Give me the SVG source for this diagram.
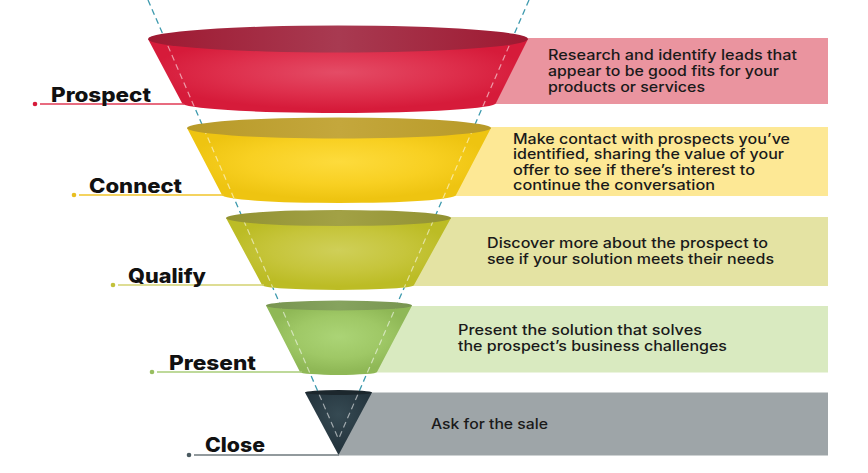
<svg xmlns="http://www.w3.org/2000/svg" width="868" height="473" viewBox="0 0 868 473">
<defs>
<style>
.lbl{font-family:Inter,"Liberation Sans",Arial,sans-serif;font-weight:800;font-size:20px;fill:#111;}
.desc{font-family:Inter,"Liberation Sans",Arial,sans-serif;font-weight:500;font-size:14px;fill:#1a1a1a;}
.guide{fill:none;stroke:#3e9aae;stroke-width:1.3;stroke-dasharray:6 4;}
.guidew{fill:none;stroke:#ffffff;stroke-opacity:0.55;stroke-width:1.2;stroke-dasharray:6 4;}
.lead{stroke-width:1.6;fill:none;}
</style>
<radialGradient id="gRed" cx="0.5" cy="0.45" r="0.5"><stop offset="0" stop-color="#e44c66"/><stop offset="0.6" stop-color="#de2f4c"/><stop offset="1" stop-color="#d61b3a"/></radialGradient>
<linearGradient id="tRed" x1="0" x2="1" y1="0" y2="0"><stop offset="0" stop-color="#9e1931"/><stop offset="0.5" stop-color="#a83a51"/><stop offset="1" stop-color="#9e1931"/></linearGradient>
<radialGradient id="gYel" cx="0.5" cy="0.45" r="0.5"><stop offset="0" stop-color="#fddb3c"/><stop offset="0.6" stop-color="#f8d022"/><stop offset="1" stop-color="#eec411"/></radialGradient>
<linearGradient id="tYel" x1="0" x2="1" y1="0" y2="0"><stop offset="0" stop-color="#b89a28"/><stop offset="0.5" stop-color="#c4a73c"/><stop offset="1" stop-color="#b89a28"/></linearGradient>
<radialGradient id="gQua" cx="0.5" cy="0.45" r="0.5"><stop offset="0" stop-color="#cfcf58"/><stop offset="0.6" stop-color="#c6c53b"/><stop offset="1" stop-color="#bcbc25"/></radialGradient>
<linearGradient id="tQua" x1="0" x2="1" y1="0" y2="0"><stop offset="0" stop-color="#929232"/><stop offset="0.5" stop-color="#a2a145"/><stop offset="1" stop-color="#929232"/></linearGradient>
<radialGradient id="gPre" cx="0.5" cy="0.45" r="0.5"><stop offset="0" stop-color="#abd476"/><stop offset="0.6" stop-color="#9fc866"/><stop offset="1" stop-color="#8fb856"/></radialGradient>
<linearGradient id="tPre" x1="0" x2="1" y1="0" y2="0"><stop offset="0" stop-color="#789550"/><stop offset="0.5" stop-color="#86a35e"/><stop offset="1" stop-color="#789550"/></linearGradient>
<radialGradient id="gClo" cx="0.5" cy="0.35" r="0.55"><stop offset="0" stop-color="#364a53"/><stop offset="1" stop-color="#24343d"/></radialGradient>
<mask id="bodyMask" maskUnits="userSpaceOnUse" x="0" y="0" width="868" height="473">
<path d="M148,39 L182,103 A157,10 0 0 0 496,103 L528,39 Z" fill="#fff"/>
<ellipse cx="338" cy="39" rx="190" ry="13.5" fill="#000"/>
<path d="M187,128 L222,195 A117,8 0 0 0 456,195 L491,128 Z" fill="#fff"/>
<ellipse cx="339" cy="128" rx="152" ry="10.5" fill="#000"/>
<path d="M226,218 L262,285 A76,5 0 0 0 414,285 L451,218 Z" fill="#fff"/>
<ellipse cx="338.5" cy="218" rx="112.5" ry="8" fill="#000"/>
<path d="M266,305.5 L300,372 A38.5,3 0 0 0 377,372 L412,305.5 Z" fill="#fff"/>
<ellipse cx="339" cy="305.5" rx="73" ry="5" fill="#000"/>
<path d="M305,392.5 L338.5,455 L372,392.5 Z" fill="#fff"/>
<ellipse cx="338.5" cy="392.5" rx="33.5" ry="2.5" fill="#000"/>
</mask>
</defs>
<rect width="868" height="473" fill="#ffffff"/>

<g id="guides-back">
<path class="guide" d="M148,0 L338.5,439"/>
<path class="guide" d="M529,0 L338.5,439"/>
</g>

<g id="prospect">
<rect x="339" y="38" width="489" height="66" fill="#ea949f"/>
<path d="M148,39 L182,103 A157,10 0 0 0 496,103 L528,39 Z" fill="url(#gRed)"/>
<ellipse cx="338" cy="39" rx="190" ry="13.5" fill="url(#tRed)"/>
<circle cx="35" cy="104" r="2.3" fill="#d61b3a"/>
<line class="lead" x1="40" y1="104" x2="184" y2="104" stroke="#e03a55"/>
<text class="lbl" x="51" y="102" textLength="100" lengthAdjust="spacingAndGlyphs">Prospect</text>
<text class="desc" x="548" y="60" textLength="249" lengthAdjust="spacingAndGlyphs">Research and identify leads that</text>
<text class="desc" x="548" y="76" textLength="231" lengthAdjust="spacingAndGlyphs">appear to be good fits for your</text>
<text class="desc" x="548" y="92" textLength="157" lengthAdjust="spacingAndGlyphs">products or services</text>
</g>

<g id="connect">
<rect x="339" y="127" width="489" height="69" fill="#fde895"/>
<path d="M187,128 L222,195 A117,8 0 0 0 456,195 L491,128 Z" fill="url(#gYel)"/>
<ellipse cx="339" cy="128" rx="152" ry="10.5" fill="url(#tYel)"/>
<circle cx="74" cy="195" r="2.3" fill="#e8be20"/>
<line class="lead" x1="79" y1="195" x2="224" y2="195" stroke="#f0c52a"/>
<text class="lbl" x="89" y="193" textLength="93" lengthAdjust="spacingAndGlyphs">Connect</text>
<text class="desc" x="513" y="143.5" textLength="277" lengthAdjust="spacingAndGlyphs">Make contact with prospects you’ve</text>
<text class="desc" x="513" y="159" textLength="271" lengthAdjust="spacingAndGlyphs">identified, sharing the value of your</text>
<text class="desc" x="513" y="174.5" textLength="242" lengthAdjust="spacingAndGlyphs">offer to see if there’s interest to</text>
<text class="desc" x="513" y="190" textLength="202" lengthAdjust="spacingAndGlyphs">continue the conversation</text>
</g>

<g id="qualify">
<rect x="339" y="217" width="489" height="69" fill="#e4e3a3"/>
<path d="M226,218 L262,285 A76,5 0 0 0 414,285 L451,218 Z" fill="url(#gQua)"/>
<ellipse cx="338.5" cy="218" rx="112.5" ry="8" fill="url(#tQua)"/>
<circle cx="113" cy="285" r="2.3" fill="#c2c13a"/>
<line class="lead" x1="118" y1="285" x2="264" y2="285" stroke="#d3d270"/>
<text class="lbl" x="128" y="283" textLength="78" lengthAdjust="spacingAndGlyphs">Qualify</text>
<text class="desc" x="487" y="247.5" textLength="281" lengthAdjust="spacingAndGlyphs">Discover more about the prospect to</text>
<text class="desc" x="487" y="263.5" textLength="287" lengthAdjust="spacingAndGlyphs">see if your solution meets their needs</text>
</g>

<g id="present">
<rect x="339" y="306" width="489" height="66.5" fill="#d9eac0"/>
<path d="M266,305.5 L300,372 A38.5,3 0 0 0 377,372 L412,305.5 Z" fill="url(#gPre)"/>
<ellipse cx="339" cy="305.5" rx="73" ry="5" fill="url(#tPre)"/>
<circle cx="152" cy="372" r="2.3" fill="#98be60"/>
<line class="lead" x1="157" y1="372" x2="302" y2="372" stroke="#a9cc78"/>
<text class="lbl" x="169" y="370" textLength="87" lengthAdjust="spacingAndGlyphs">Present</text>
<text class="desc" x="458" y="334.5" textLength="244" lengthAdjust="spacingAndGlyphs">Present the solution that solves</text>
<text class="desc" x="458" y="350.5" textLength="269" lengthAdjust="spacingAndGlyphs">the prospect’s business challenges</text>
</g>

<g id="close">
<rect x="338.5" y="392.5" width="489.5" height="63" fill="#9ea5a8"/>
<path d="M305,392.5 L338.5,455 L372,392.5 Z" fill="url(#gClo)"/>
<ellipse cx="338.5" cy="392.5" rx="33.5" ry="2.5" fill="#1c272d"/>
<circle cx="189" cy="455" r="2.3" fill="#4a5a60"/>
<line class="lead" x1="194" y1="455" x2="339" y2="455" stroke="#6e787c"/>
<text class="lbl" x="205" y="452" textLength="60" lengthAdjust="spacingAndGlyphs">Close</text>
<text class="desc" x="431" y="429" textLength="117" lengthAdjust="spacingAndGlyphs">Ask for the sale</text>
</g>

<g id="guides-front" mask="url(#bodyMask)">
<path class="guidew" d="M148,0 L338.5,439"/>
<path class="guidew" d="M529,0 L338.5,439"/>
</g>
</svg>
